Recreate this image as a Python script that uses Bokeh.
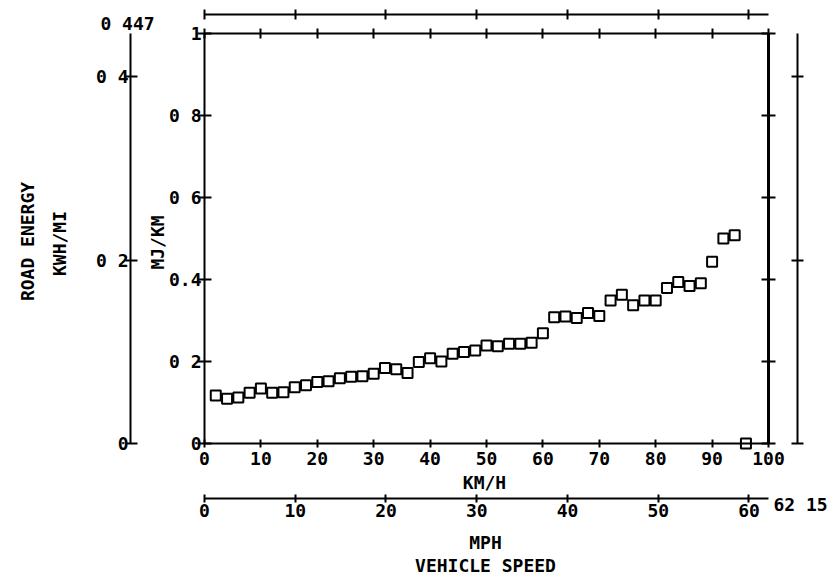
from bokeh.plotting import figure
from bokeh.models import LinearAxis, Range1d, FixedTicker, Label
from bokeh.embed import file_html
from bokeh.resources import INLINE
import math

# ---------------- data ----------------
speed_kmh = [2, 4, 6, 8, 10, 12, 14, 16, 18, 20, 22, 24, 26, 28, 30, 32, 34, 36,
             38, 40, 42, 44, 46, 48, 50, 52, 54, 56, 58, 60, 62, 64, 66, 68, 70,
             72, 74, 76, 78, 80, 82, 84, 86, 88, 90, 92, 94, 96]
energy_mj_km = [0.117, 0.109, 0.112, 0.124, 0.134, 0.124, 0.125, 0.137, 0.142,
                0.150, 0.152, 0.159, 0.163, 0.164, 0.170, 0.184, 0.181, 0.172,
                0.199, 0.208, 0.200, 0.219, 0.223, 0.227, 0.239, 0.237, 0.243,
                0.243, 0.246, 0.269, 0.308, 0.310, 0.306, 0.318, 0.311, 0.349,
                0.363, 0.337, 0.349, 0.349, 0.379, 0.394, 0.384, 0.391, 0.443,
                0.500, 0.508, 0.0]

kmh_max = 100
kmh_ticks = [0, 10, 20, 30, 40, 50, 60, 70, 80, 90, 100]
kmh_labels = ["0", "10", "20", "30", "40", "50", "60", "70", "80", "90", "100"]
mj_max = 1
mj_ticks = [0, 0.2, 0.4, 0.6, 0.8, 1]
mj_labels = ["0", "0 2", "0.4", "0 6", "0 8", "1"]
kwh_ticks = [0, 0.2, 0.4]
kwh_labels = ["0", "0 2", "0 4"]
kwh_max = 0.447
kwh_max_label = "0 447"
mph_ticks = [0, 10, 20, 30, 40, 50, 60]
mph_labels = ["0", "10", "20", "30", "40", "50", "60"]
mph_max = 62.15
mph_max_label = "62 15"

FONT = "DejaVu Sans Mono"
FSIZE = "18px"

W, H = 835, 581
# pixel placement of the main frame (0..100 km/h, 0..1 MJ/km)
X0, X1 = 204.0, 768.0
Y0, Y1 = 443.0, 33.0
sx = (X1 - X0) / kmh_max
sy = (Y0 - Y1) / mj_max


def px_x(px):
    return (px - X0) / sx


def px_y(py):
    return (Y0 - py) / sy


xr = Range1d(px_x(0), px_x(W))
yr = Range1d(px_y(H), px_y(0))

p = figure(width=W, height=H, x_range=xr, y_range=yr,
           output_backend="svg", toolbar_location=None,
           x_axis_location=None, y_axis_location=None,
           min_border_left=0, min_border_right=0, min_border_top=0,
           min_border_bottom=0)
p.grid.visible = False
p.outline_line_color = None
p.background_fill_color = "white"
p.border_fill_color = "white"
kf = kwh_max / mj_max
mf = mph_max / kmh_max
p.extra_y_ranges = {"kwh": Range1d(yr.start * kf, yr.end * kf)}
p.extra_x_ranges = {"mph": Range1d(xr.start * mf, xr.end * mf)}


def style(ax, ticks, labels=None, tin=5, tout=5, lw=2, standoff=2):
    ax.ticker = FixedTicker(ticks=ticks)
    ax.axis_line_color = "black"
    ax.axis_line_width = lw
    ax.major_tick_line_color = "black"
    ax.major_tick_line_width = 2
    ax.major_tick_in = tin
    ax.major_tick_out = tout
    ax.minor_tick_line_color = None
    ax.major_label_text_font = FONT
    ax.major_label_text_font_style = "bold"
    ax.major_label_text_font_size = FSIZE
    ax.major_label_text_color = "black"
    ax.major_label_standoff = standoff
    if labels is None:
        labels = [""] * len(ticks)
    ax.major_label_overrides = {t: s for t, s in zip(ticks, labels)}
    return ax


# main frame axes
ax_left = style(LinearAxis(fixed_location=0, bounds=(0, mj_max)),
                mj_ticks, mj_labels, tin=7, tout=7, standoff=-4)
p.add_layout(ax_left, "left")
ax_bottom = style(LinearAxis(fixed_location=0, bounds=(0, kmh_max)),
                  kmh_ticks, kmh_labels, tin=4, tout=4, standoff=4)
p.add_layout(ax_bottom, "below")
ax_top = style(LinearAxis(fixed_location=mj_max, bounds=(0, kmh_max)),
               kmh_ticks, None, tin=5, tout=5)
p.add_layout(ax_top, "above")
ax_right = style(LinearAxis(fixed_location=kmh_max, bounds=(0, mj_max)),
                 mj_ticks, None, tin=7, tout=7, lw=3)
p.add_layout(ax_right, "right")

# secondary axes
ax_kwh = style(LinearAxis(y_range_name="kwh", fixed_location=px_x(130),
                          bounds=(0, kwh_max)),
               kwh_ticks, kwh_labels, tin=7, tout=5, standoff=-3)
p.add_layout(ax_kwh, "left")
ax_kwh_r = style(LinearAxis(y_range_name="kwh", fixed_location=px_x(796.5),
                            bounds=(0, kwh_max)),
                 kwh_ticks, None, tin=6, tout=6)
p.add_layout(ax_kwh_r, "right")
ax_mph = style(LinearAxis(x_range_name="mph", fixed_location=px_y(498),
                          bounds=(0, mph_max)),
               mph_ticks, mph_labels, tin=4, tout=4, standoff=1)
p.add_layout(ax_mph, "below")
ax_mph_t = style(LinearAxis(x_range_name="mph", fixed_location=px_y(13.5),
                            bounds=(0, mph_max)),
                 mph_ticks, None, tin=5, tout=5)
p.add_layout(ax_mph_t, "above")

# data
p.scatter(speed_kmh, energy_mj_km, marker="square", size=10,
          fill_color=None, line_color="black", line_width=2)


def lab(text, px, py, angle=0.0, align="center"):
    p.add_layout(Label(x=px_x(px), y=px_y(py), text=text, angle=angle,
                       text_align=align, text_baseline="middle",
                       text_font=FONT, text_font_style="bold",
                       text_font_size=FSIZE, text_color="black"))


lab("ROAD ENERGY", 27, 241, angle=math.pi / 2)
lab("KWH/MI", 59, 243, angle=math.pi / 2)
lab("MJ/KM", 157, 242, angle=math.pi / 2)
lab("KM/H", 484, 482)
lab("MPH", 485, 542)
lab("VEHICLE SPEED", 485, 565)
lab(kwh_max_label, 127, 23)
lab(mph_max_label, 773, 504, align="left")

open("out.html", "w").write(file_html(p, INLINE))
